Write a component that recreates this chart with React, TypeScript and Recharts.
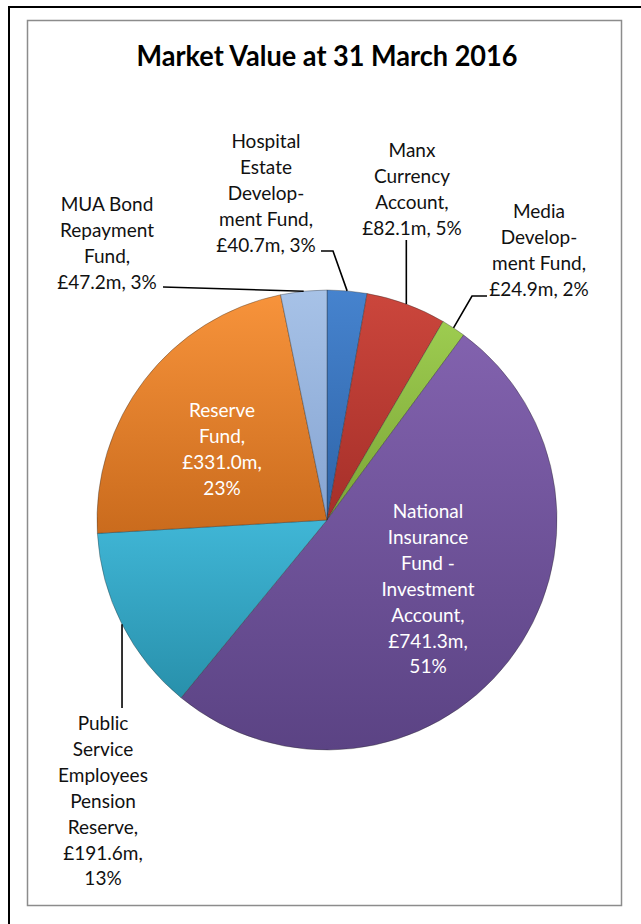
import React from "react";
import { PieChart, Pie, Cell } from "recharts";

// ---- data ----
const categories = [
  "Hospital Estate Development Fund",
  "Manx Currency Account",
  "Media Development Fund",
  "National Insurance Fund - Investment Account",
  "Public Service Employees Pension Reserve",
  "Reserve Fund",
  "MUA Bond Repayment Fund",
];
const values = [40.7, 82.1, 24.9, 741.3, 191.6, 331.0, 47.2];
const percentLabels = [3, 5, 2, 51, 13, 23, 3];
const title = "Market Value at 31 March 2016";

// ---- styling / layout ----
const colorsTop = ["#4683CE", "#CB463C", "#9DCC50", "#8262AE", "#40B6D6", "#F7933B", "#A7C2E7"];
const colorsBottom = ["#2E64A8", "#A52F29", "#7BA536", "#5B4384", "#2890AB", "#CA6B1D", "#85A4D2"];
const labelLines = [
  ["Hospital", "Estate", "Develop-", "ment Fund,"],
  ["Manx", "Currency", "Account,"],
  ["Media", "Develop-", "ment Fund,"],
  ["National", "Insurance", "Fund -", "Investment", "Account,"],
  ["Public", "Service", "Employees", "Pension", "Reserve,"],
  ["Reserve", "Fund,"],
  ["MUA Bond", "Repayment", "Fund,"],
];
const splitValueLine = [false, false, false, true, true, true, false];
const inside = [false, false, false, true, false, true, false];
const labelCenterX = [266, 412, 539, 428, 103, 222, 107];
const labelFirstBaseline = [148, 157, 218, 518, 730, 417, 211];
// leader elbow points (label side), anchor computed from slice
const leaderPoints: number[][][] = [
  [[333, 251], [321, 251]],
  [[-1, 240]],
  [[472, 296], [487, 296]],
  [],
  [[-1, 708]],
  [],
  [[163, 287]],
];

const data = categories.map((name, i) => ({ name, value: values[i], pct: percentLabels[i] }));

const FONT = "Lato, 'Open Sans', sans-serif";
const LINE_H = 25.9;
const RAD = Math.PI / 180;

const renderLabel = (props: any) => {
  const { cx, cy, midAngle, outerRadius, index, value, payload } = props;
  const i = index;
  const valStr = "£" + Number(value).toFixed(1) + "m,";
  const pctStr = (payload?.pct ?? percentLabels[i]) + "%";
  const lines = [...labelLines[i]];
  if (splitValueLine[i]) {
    lines.push(valStr, pctStr);
  } else {
    lines.push(valStr + " " + pctStr);
  }
  const ax = cx + Math.cos(-midAngle * RAD) * outerRadius;
  const ay = cy + Math.sin(-midAngle * RAD) * outerRadius;
  const pts = leaderPoints[i];
  let path = "";
  if (pts.length) {
    path = `M${ax},${ay}`;
    pts.forEach((p) => {
      const px = p[0] < 0 ? ax : p[0];
      path += ` L${px},${p[1]}`;
    });
  }
  return (
    <g key={"lbl" + i}>
      {path && <path d={path} stroke="#000" strokeWidth={1.6} fill="none" />}
      <text
        x={labelCenterX[i]}
        y={labelFirstBaseline[i]}
        textAnchor="middle"
        fontFamily={FONT}
        fontSize={19}
        fill={inside[i] ? "#ffffff" : "#111111"}
      >
        {lines.map((l, k) => (
          <tspan key={k} x={labelCenterX[i]} y={labelFirstBaseline[i] + k * LINE_H}>
            {l}
          </tspan>
        ))}
      </text>
    </g>
  );
};

export default function App() {
  return (
    <div style={{ position: "absolute", left: 0, top: 0, width: 641, height: 924, background: "#fff", overflow: "hidden" }}>
      <svg width={641} height={924} style={{ position: "absolute", left: 0, top: 0 }}>
        <rect x={9} y={7} width={700} height={1000} fill="none" stroke="#000" strokeWidth={2} />
        <rect x={27.5} y={20.5} width={594} height={885} fill="#fff" stroke="#8c8c8c" strokeWidth={1.5} />
        <text
          x={327}
          y={66}
          textAnchor="middle"
          fontFamily={FONT}
          fontWeight={700}
          fontSize={28}
          fill="#000"
          textLength={381}
          lengthAdjust="spacingAndGlyphs"
        >
          {title}
        </text>
      </svg>
      <div style={{ position: "absolute", left: 0, top: 0 }}>
        <PieChart width={641} height={924} margin={{ top: 0, right: 0, bottom: 0, left: 0 }}>
          <defs>
            {colorsTop.map((c, i) => (
              <linearGradient key={i} id={"g" + i} x1="0" y1="0" x2="0" y2="1">
                <stop offset="0%" stopColor={c} />
                <stop offset="100%" stopColor={colorsBottom[i]} />
              </linearGradient>
            ))}
          </defs>
          <Pie
            data={data}
            dataKey="value"
            nameKey="name"
            cx={327}
            cy={520}
            outerRadius={230}
            startAngle={90}
            endAngle={-270}
            isAnimationActive={false}
            label={renderLabel}
            labelLine={false}
            stroke="rgba(40,40,40,0.45)"
            strokeWidth={0.8}
          >
            {data.map((_, i) => (
              <Cell key={i} fill={`url(#g${i})`} />
            ))}
          </Pie>
        </PieChart>
      </div>
    </div>
  );
}
